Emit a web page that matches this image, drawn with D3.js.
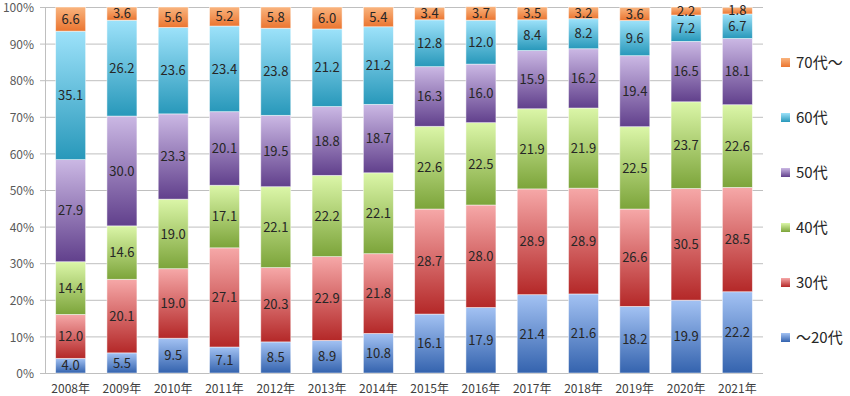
<!DOCTYPE html>
<html><head><meta charset="utf-8">
<script src="https://cdn.jsdelivr.net/npm/d3@7"></script>
<style>body{margin:0;background:#fff;} svg{display:block;font-family:"Noto Sans CJK JP","Noto Sans",sans-serif;}</style>
</head><body>
<script>
const years = ["2008年","2009年","2010年","2011年","2012年","2013年","2014年","2015年","2016年","2017年","2018年","2019年","2020年","2021年"];
const seriesNames = ["～20代","30代","40代","50代","60代","70代～"];
const s20 = [4.0,5.5,9.5,7.1,8.5,8.9,10.8,16.1,17.9,21.4,21.6,18.2,19.9,22.2];
const s30 = [12.0,20.1,19.0,27.1,20.3,22.9,21.8,28.7,28.0,28.9,28.9,26.6,30.5,28.5];
const s40 = [14.4,14.6,19.0,17.1,22.1,22.2,22.1,22.6,22.5,21.9,21.9,22.5,23.7,22.6];
const s50 = [27.9,30.0,23.3,20.1,19.5,18.8,18.7,16.3,16.0,15.9,16.2,19.4,16.5,18.1];
const s60 = [35.1,26.2,23.6,23.4,23.8,21.2,21.2,12.8,12.0,8.4,8.2,9.6,7.2,6.7];
const s70 = [6.6,3.6,5.6,5.2,5.8,6.0,5.4,3.4,3.7,3.5,3.2,3.6,2.2,1.8];
const yTicks = [0,10,20,30,40,50,60,70,80,90,100];

const allSeries = [s20,s30,s40,s50,s60,s70];
const gradStops = [["#a3c2f3","#3463ae"],["#f6a8a8","#b42828"],["#dbf6a8","#7ca43a"],["#cbb8e4","#61408c"],["#9de2fa","#2898ba"],["#f9b47e","#eb7530"]];

const W=850,H=396;
const svg=d3.select("body").append("svg").attr("width",W).attr("height",H);
const defs=svg.append("defs");
gradStops.forEach((g,i)=>{
  const lg=defs.append("linearGradient").attr("id","g"+i).attr("x1",0).attr("y1",0).attr("x2",0).attr("y2",1);
  lg.append("stop").attr("offset","0%").attr("stop-color",g[0]);
  lg.append("stop").attr("offset","100%").attr("stop-color",g[1]);
});

const x=d3.scaleBand().domain(years).range([45,763]).paddingInner(0.415).paddingOuter(0.2075);
const y=d3.scaleLinear().domain([0,100]).range([373,7]);

// grid
svg.append("g").selectAll("line").data(yTicks).join("line")
  .attr("x1",45).attr("x2",763).attr("y1",d=>y(d)+0.5).attr("y2",d=>y(d)+0.5)
  .attr("stroke","#bfbfbf").attr("stroke-width",1);
svg.append("line").attr("x1",45.5).attr("x2",45.5).attr("y1",y(100)).attr("y2",y(0)).attr("stroke","#bfbfbf");
svg.append("g").selectAll("line").data(yTicks).join("line")
  .attr("x1",40).attr("x2",45).attr("y1",d=>y(d)+0.5).attr("y2",d=>y(d)+0.5).attr("stroke","#bfbfbf");

// y labels
svg.append("g").selectAll("text").data(yTicks).join("text")
  .attr("x",34).attr("y",d=>y(d)+1).attr("dy","0.35em").attr("text-anchor","end")
  .attr("font-size",12).attr("fill","#595959").text(d=>d+"%");

// x labels
svg.append("g").selectAll("text").data(years).join("text")
  .attr("x",d=>x(d)+x.bandwidth()/2).attr("y",389).attr("dy","0.35em").attr("text-anchor","middle")
  .attr("font-size",12).attr("fill","#404040").text(d=>d);

// stacks
const table=years.map((yr,i)=>{const o={year:yr};seriesNames.forEach((n,j)=>o[n]=allSeries[j][i]);return o;});
const stack=d3.stack().keys(seriesNames)(table);
stack.forEach((layer,j)=>{
  const g=svg.append("g");
  g.selectAll("rect").data(layer).join("rect")
    .attr("x",d=>x(d.data.year)).attr("width",x.bandwidth())
    .attr("y",d=>y(d[1])).attr("height",d=>y(d[0])-y(d[1]))
    .attr("fill","url(#g"+j+")").attr("stroke","#ffffff").attr("stroke-opacity",0.6).attr("stroke-width",0.8);
  g.selectAll("text").data(layer).join("text")
    .attr("x",d=>x(d.data.year)+x.bandwidth()/2).attr("y",d=>(y(d[0])+y(d[1]))/2).attr("dy","0.36em")
    .attr("text-anchor","middle").attr("font-size",13).attr("fill","#262626")
    .text(d=>(d[1]-d[0]).toFixed(1));
});

// legend
const legOrder=seriesNames.slice().reverse();
const lg=svg.append("g").selectAll("g").data(legOrder).join("g")
  .attr("transform",(d,i)=>`translate(781,${63+i*55})`);
lg.append("rect").attr("x",0).attr("y",-5).attr("width",9).attr("height",9)
  .attr("fill",d=>"url(#g"+seriesNames.indexOf(d)+")");
lg.append("text").attr("x",15).attr("y",0).attr("dy","0.35em").attr("font-size",15).attr("fill","#262626").text(d=>d);
</script>
</body></html>
